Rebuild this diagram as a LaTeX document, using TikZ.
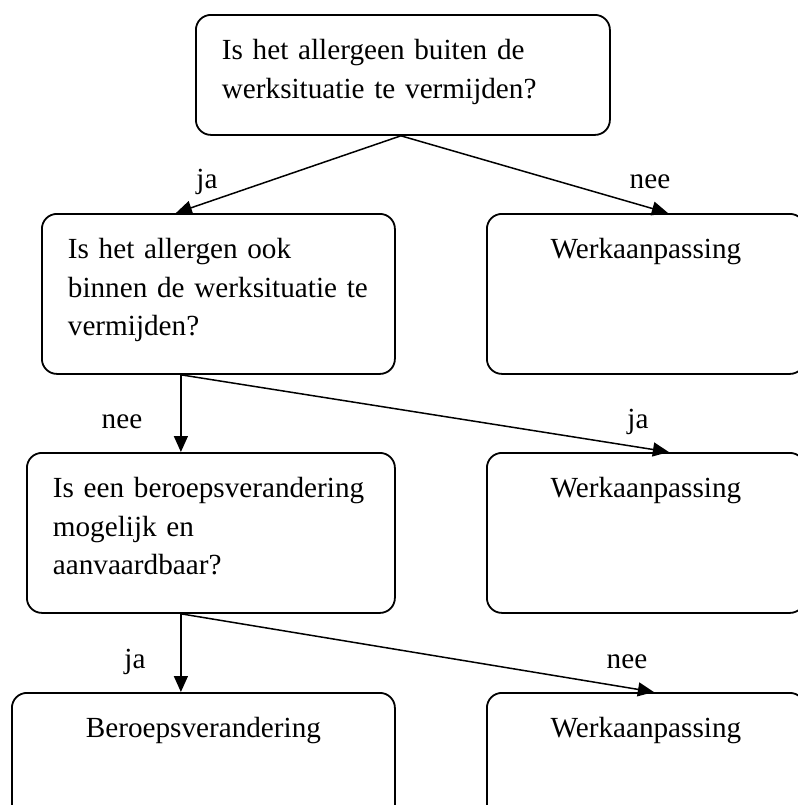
\documentclass[tikz,border=0pt]{standalone}
\usepackage{fontspec}
\setmainfont{Liberation Serif}
\usetikzlibrary{arrows.meta}
\tikzset{
  qbox/.style = {rectangle, rounded corners=7.5pt, draw=black, line width=0.9pt,
                 anchor=north west, inner xsep=13pt, inner ysep=0pt,
                 text height=22.5pt, text depth=57.5pt, align=left,
                 font=\fontsize{14.6}{19.25}\selectfont},
  abox/.style = {qbox, align=center, text width=133pt},
  lbl/.style  = {anchor=base, inner sep=0pt, font=\fontsize{14.6}{19.25}\selectfont},
  ar/.style   = {-{Triangle[length=8pt,width=7pt]}, draw=black, line width=0.75pt}
}
\begin{document}
\begin{tikzpicture}[x=0.5pt, y=-0.5pt]
    \useasboundingbox (0,0) rectangle (798,805);
    % vragen
    \node[qbox, text width=181pt, text depth=37.5pt] (q1) at (195,14)
      {Is het allergeen buiten de\\werksituatie te vermijden?};
    \node[qbox, text width=150.5pt] (q2) at (41,213)
      {Is het allergen ook\\binnen de werksituatie te\\vermijden?};
    \node[qbox, text width=158pt] (q4) at (26,452)
      {Is een beroepsverandering\\mogelijk en\\aanvaardbaar?};
    % uitkomsten
    \node[abox] (w1) at (486,213) {Werkaanpassing};
    \node[abox] (w2) at (486,452) {Werkaanpassing};
    \node[abox] (w3) at (486,692) {Werkaanpassing};
    \node[abox, text width=165.5pt] (bv) at (11,692) {Beroepsverandering};
    % pijlen
    \draw[ar] ([xshift=-1pt]q1.south) -- ([xshift=-21.25pt]q2.north);
    \draw[ar] ([xshift=-1pt]q1.south) -- ([xshift=11pt]w1.north);
    \draw[ar] ([xshift=-18.75pt]q2.south) -- ([xshift=-15pt]q4.north);
    \draw[ar] ([xshift=-18.75pt]q2.south) -- ([xshift=11.5pt]w2.north);
    \draw[ar] ([xshift=-15pt]q4.south) -- ([xshift=-11.25pt]bv.north);
    \draw[ar] ([xshift=-15pt]q4.south) -- ([xshift=4pt]w3.north);
    % labels
    \node[lbl] (ja1)  at (207,188) {ja};
    \node[lbl] (nee1) at (650,188) {nee};
    \node[lbl] (nee2) at (122,428) {nee};
    \node[lbl] (ja2)  at (638,428) {ja};
    \node[lbl] (ja3)  at (135,668) {ja};
    \node[lbl] (nee3) at (627,668) {nee};
  \end{tikzpicture}
\end{document}
